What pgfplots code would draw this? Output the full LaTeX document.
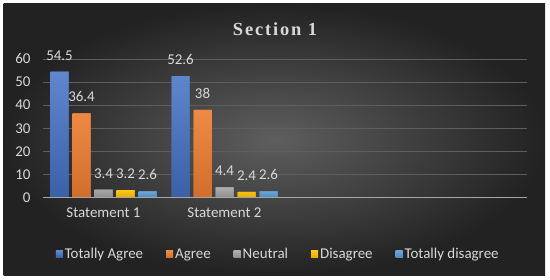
\documentclass[border=0pt]{standalone}
\usepackage{fontspec}
\setmainfont{Carlito}
\newfontfamily\titlefont[LetterSpace=10]{Liberation Serif}
\usepackage{pgfplots}
\pgfplotsset{compat=1.18}

\definecolor{bgin}{HTML}{5E5E5E}
\definecolor{bgout}{HTML}{222222}
\definecolor{lbl}{HTML}{D9D9D9}
\definecolor{gridc}{HTML}{5E5E5E}
\definecolor{axc}{HTML}{A6A6A6}
\definecolor{c1}{HTML}{4472C4}
\definecolor{c2}{HTML}{ED7D31}
\definecolor{c3}{HTML}{A5A5A5}
\definecolor{c4}{HTML}{FFC000}
\definecolor{c5}{HTML}{5B9BD5}

\begin{document}
\begin{tikzpicture}
\fill[white] (0,0) rectangle (550bp,280bp);
\shade[inner color=bgin, outer color=bgout] (3.5bp,4bp) rectangle (545bp,276.5bp);
\node[text=lbl, font=\titlefont\bfseries\fontsize{18.5}{22}\selectfont] at (275bp,250.5bp) {Section 1};
\begin{axis}[
  at={(43bp,82.5bp)}, anchor=south west,
  width=484bp, height=138.5bp, scale only axis,
  xmin=-0.5, xmax=3.5, ymin=0, ymax=60,
  xtick={0,1}, xticklabels={Statement 1,Statement 2},
  ytick={0,10,...,60},
  axis line style={draw=none},
  major tick length=0pt,
  ymajorgrids, grid style={gridc, line width=0.8bp},
  tick label style={text=lbl, font=\fontsize{15}{18}\selectfont},
  xticklabel style={yshift=-7bp},
  yticklabel style={xshift=-9bp},
  /pgf/number format/assume math mode=true,
  ybar=4bp, bar width=18bp,
  nodes near coords,
  every node near coord/.append style={text=lbl, font=\fontsize{15}{18}\selectfont, yshift=8bp},
  legend columns=5,
  legend style={at={(0.486,-0.41)}, anchor=center, draw=none, fill=none,
    text=lbl, font=\fontsize{15}{18}\selectfont,
    /tikz/every even column/.append style={column sep=21bp}},
  legend image code/.code={\fill[#1,draw=none] (0bp,-3.5bp) rectangle (7bp,3.5bp);},
  clip=false,
]
\addplot[draw=none, top color=c1!85!white, bottom color=c1!85!black, fill=c1] coordinates {(0,54.5) (1,52.6)};
\addplot[draw=none, top color=c2!90!white, bottom color=c2!88!black, fill=c2] coordinates {(0,36.4) (1,38)};
\addplot[draw=none, top color=c3!90!white, bottom color=c3!85!black, fill=c3] coordinates {(0,3.4) (1,4.4)};
\addplot[draw=none, top color=c4!90!white, bottom color=c4!90!black, fill=c4] coordinates {(0,3.2) (1,2.4)};
\addplot[draw=none, top color=c5!90!white, bottom color=c5!88!black, fill=c5] coordinates {(0,2.6) (1,2.6)};
\legend{Totally Agree,Agree,Neutral,Disagree,Totally disagree}
\draw[axc, line width=1.3bp] (axis cs:-0.5,0) -- (axis cs:3.5,0);
\end{axis}
\useasboundingbox (0,0) rectangle (550bp,280bp);
\end{tikzpicture}
\end{document}
